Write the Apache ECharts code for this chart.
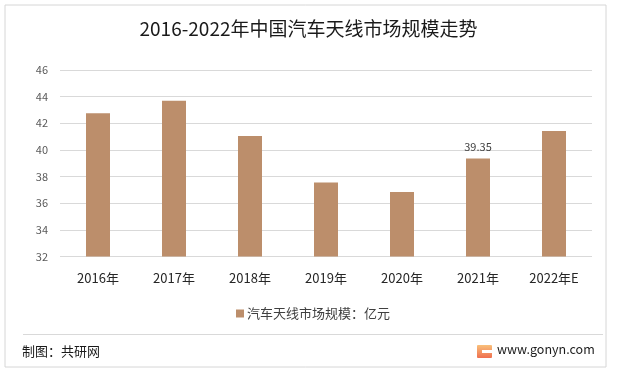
<!DOCTYPE html>
<html>
<head>
<meta charset="utf-8">
<script src="https://cdn.jsdelivr.net/npm/echarts@6/dist/echarts.min.js"></script>
<style>html,body{margin:0;padding:0;background:#fff;}#c{width:617px;height:374px;}</style>
</head>
<body>
<div id="c"></div>
<script>
var categories = ['2016年', '2017年', '2018年', '2019年', '2020年', '2021年', '2022年E'];
var marketSize = [42.75, 43.7, 41.05, 37.55, 36.85, 39.35, 41.42];
var labelledIndex = [5];
var seriesName = '汽车天线市场规模：亿元';
var titleText = '2016-2022年中国汽车天线市场规模走势';
var yMin = 32, yMax = 46, yStep = 2;

var FONT = '"Noto Sans CJK SC", "Noto Sans", sans-serif';
var chart = echarts.init(document.getElementById('c'), null, {renderer: 'canvas'});

var dataItems = marketSize.map(function (v, i) {
  return {
    value: v,
    label: {show: labelledIndex.indexOf(i) >= 0}
  };
});

chart.setOption({
  backgroundColor: '#fff',
  animation: false,
  title: {
    text: titleText,
    left: 'center',
    top: 14,
    textStyle: {fontFamily: FONT, fontSize: 19, fontWeight: 'normal', color: '#1a1a1a'}
  },
  grid: {left: 60, right: 25, top: 70, bottom: 117.5, containLabel: false},
  legend: {
    data: [seriesName],
    left: 231,
    top: 302,
    icon: 'rect',
    itemWidth: 8,
    itemHeight: 8,
    itemGap: 4,
    textStyle: {fontFamily: FONT, fontSize: 13, color: '#404040', padding: [0, 0, 0, -2]}
  },
  xAxis: {
    type: 'category',
    data: categories,
    axisLine: {show: false},
    axisTick: {show: false},
    axisLabel: {fontFamily: FONT, fontSize: 13, color: '#262626', margin: 15}
  },
  yAxis: {
    type: 'value',
    min: yMin,
    max: yMax,
    interval: yStep,
    axisLine: {show: false},
    axisTick: {show: false},
    axisLabel: {fontFamily: FONT, fontSize: 11, color: '#595959', margin: 12},
    splitLine: {lineStyle: {color: '#d9d9d9', width: 1}}
  },
  series: [{
    name: seriesName,
    type: 'bar',
    data: dataItems,
    barWidth: 24,
    itemStyle: {color: '#bc8e6b'},
    label: {
      position: 'top',
      distance: 6,
      fontFamily: FONT,
      fontSize: 11,
      color: '#404040'
    }
  }],
  graphic: [
    {type: 'rect', z: -10, shape: {x: 5, y: 5, width: 601, height: 362},
     style: {fill: 'none', stroke: '#d6d6d6', lineWidth: 1}},
    {type: 'line', shape: {x1: 23, y1: 334.5, x2: 603, y2: 334.5},
     style: {stroke: '#d9d9d9', lineWidth: 1}},
    {type: 'text', left: 22, top: 345,
     style: {text: '制图：共研网', font: '13px ' + FONT, fill: '#1a1a1a'}},
    {type: 'rect', shape: {x: 477, y: 345, width: 15, height: 13, r: 1},
     style: {fill: new echarts.graphic.LinearGradient(0, 0, 0, 1, [
       {offset: 0, color: '#f9c07a'}, {offset: 1, color: '#ef6f4f'}])}},
    {type: 'rect', shape: {x: 482, y: 350, width: 10, height: 3},
     style: {fill: '#fff'}},
    {type: 'text', left: 497, top: 343,
     style: {text: 'www.gonyn.com', font: '12.5px ' + FONT, fill: '#1a1a1a'}}
  ]
});
</script>
</body>
</html>
